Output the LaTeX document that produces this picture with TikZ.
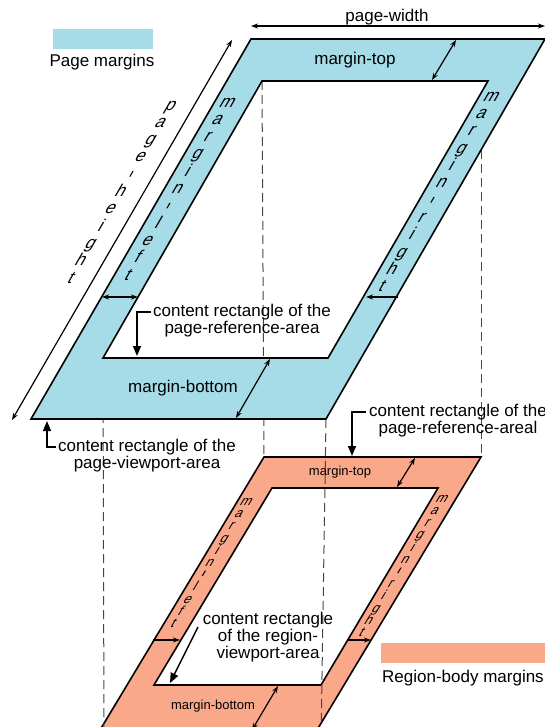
\documentclass[tikz,border=0pt]{standalone}
\usepackage{fontspec}
\setmainfont{Liberation Sans}
\usetikzlibrary{arrows.meta}
\definecolor{pageblue}{RGB}{166,220,231}
\definecolor{regorange}{RGB}{250,168,138}
\definecolor{dashgray}{RGB}{70,70,70}
\newcommand{\vhy}{\rule[2.5pt]{1.2pt}{5.5pt}}
\tikzset{
 lbl/.style={font=\fontsize{17}{17}\selectfont, inner sep=0pt},
 lblsmall/.style={font=\fontsize{13}{13}\selectfont, inner sep=0pt},
 multi/.style={font=\fontsize{17}{17}\selectfont, inner sep=0pt, align=center},
 vtext/.style={font={\fontsize{17}{17.3}\selectfont\lineskiplimit=-100pt\relax\lineskip=0pt\relax}, align=center, inner sep=0pt, transform shape},
 vtextsmall/.style={font={\fontsize{13}{12.2}\selectfont\lineskiplimit=-100pt\relax\lineskip=0pt\relax}, align=center, inner sep=0pt, transform shape},
 outline/.style={draw=black, line width=1.6pt, line join=miter},
 dim/.style={line width=1.2pt, {Stealth[length=7pt,width=5pt]}-{Stealth[length=7pt,width=5pt]}},
 dimone/.style={line width=1.2pt, -{Stealth[length=7pt,width=5pt]}},
 pointer/.style={line width=1.4pt, -{Triangle[length=10pt,width=8pt]}},
 guide/.style={draw=dashgray, line width=1pt, dash pattern=on 9pt off 5pt},
}
\begin{document}
\begin{tikzpicture}[x=1pt,y=-1pt]
\useasboundingbox (0,0) rectangle (545,727);
\clip (0,0) rectangle (545,727);
% top parallelogram
\coordinate (O1) at (31,419); \coordinate (O2) at (326,419);
\coordinate (O3) at (545,39); \coordinate (O4) at (251,39);
\coordinate (I1) at (103,358); \coordinate (I2) at (328,358);
\coordinate (I3) at (488,81); \coordinate (I4) at (262,81);
% bottom parallelogram
\coordinate (R1) at (94,740); \coordinate (R2) at (311,740);
\coordinate (R3) at (481,457); \coordinate (R4) at (264,457);
\coordinate (S1) at (154,685); \coordinate (S2) at (321,685);
\coordinate (S3) at (438,488); \coordinate (S4) at (272,488);
% guide ends
\coordinate (G2) at (481,150); \coordinate (G3) at (321,740); \coordinate (G4) at (104,740);

% legends
\fill[pageblue] (53,29) rectangle (153,49);
\node[lbl] (legA) at (102,62) {Page margins};
\fill[regorange] (381,643) rectangle (546,663);
\node[lbl, anchor=west] (legB) at (382,678) {Region-body margins};

% orange region
\fill[regorange, even odd rule] (R1)--(R2)--(R3)--(R4)--cycle (S1)--(S2)--(S3)--(S4)--cycle;
\draw[outline] (R1)--(R2)--(R3)--(R4)--cycle;
\draw[outline] (S1)--(S2)--(S3)--(S4)--cycle;

% guides
\draw[guide] (I4) -- (R4);
\draw[guide] (G2) -- (R3);
\draw[guide] (O2) -- (G3);
\draw[guide] (I1) -- (G4);

% blue page
\fill[pageblue, even odd rule] (O1)--(O2)--(O3)--(O4)--cycle (I1)--(I2)--(I3)--(I4)--cycle;
\draw[outline] (O1)--(O2)--(O3)--(O4)--cycle;
\draw[outline] (I1)--(I2)--(I3)--(I4)--cycle;

% dimension arrows, top
\coordinate (pw1) at (251,26); \coordinate (pw2) at (545,26);
\draw[dim] (pw1) -- (pw2);
\node[lbl] (pwl) at (387,17) {page-width};
\coordinate (ph1) at (232,40); \coordinate (ph2) at (12,420);
\draw[dim] (ph1) -- (ph2);
\coordinate (mt1) at (456,40); \coordinate (mt2) at (432,80);
\draw[dim] (mt1) -- (mt2);
\coordinate (mb1) at (270,359); \coordinate (mb2) at (236,418);
\draw[dim] (mb1) -- (mb2);
\coordinate (ml1) at (102,297); \coordinate (ml2) at (138,297);
\draw[dim] (ml1) -- (ml2);
\coordinate (mr1) at (398,297); \coordinate (mr2) at (366,297);
\draw[dimone] (mr1) -- (mr2);

% dimension arrows, bottom
\coordinate (bt1) at (415,458); \coordinate (bt2) at (397,487);
\draw[dim] (bt1) -- (bt2);
\coordinate (bb1) at (278,686); \coordinate (bb2) at (252,730);
\draw[dim] (bb1) -- (bb2);
\coordinate (bl1) at (153,640); \coordinate (bl2) at (180,640);
\draw[dimone] (bl1) -- (bl2);
\coordinate (br1) at (347,640); \coordinate (br2) at (371,640);
\draw[dimone] (br1) -- (br2);

% labels in margins
\node[lbl] (mtl) at (355,60) {margin-top};
\node[lbl] (mbl) at (183,388) {margin-bottom};
\node[lblsmall] (bmtl) at (340,472) {margin-top};
\node[lblsmall] (bmbl) at (213,706) {margin-bottom};

% slanted vertical texts
\begin{scope}[shift={(121,192)}, xslant=0.577]
\node[vtext] (phl) at (0,0) {p\\a\\g\\e\\{\vhy}\\h\\e\\i\\g\\h\\t};
\end{scope}
\begin{scope}[shift={(178,189)}, xslant=0.577]
\node[vtext] (mll) at (0,0) {m\\a\\r\\g\\i\\n\\{\vhy}\\l\\e\\f\\t};
\end{scope}
\begin{scope}[shift={(437,192)}, xslant=0.577]
\node[vtext] (mrl) at (0,0) {m\\a\\r\\g\\i\\n\\{\vhy}\\r\\i\\g\\h\\t};
\end{scope}
\begin{scope}[shift={(210,563)}, xslant=0.6]
\node[vtextsmall] (bmll) at (0,0) {m\\a\\r\\g\\i\\n\\{\vhy}\\l\\e\\f\\t};
\end{scope}
\begin{scope}[shift={(402,566)}, xslant=0.6]
\node[vtextsmall] (bmrl) at (0,0) {m\\a\\r\\g\\i\\n\\{\vhy}\\r\\i\\g\\h\\t};
\end{scope}

% pointer labels
\node[multi] (cr1) at (242,321) {content rectangle of the\\page-reference-area};
\coordinate (p1a) at (151,312); \coordinate (p1b) at (137,356);
\draw[pointer] (p1a) -| (p1b);

\node[multi] (cr2) at (147,456) {content rectangle of the\\page-viewport-area};
\coordinate (p2a) at (56,447); \coordinate (p2b) at (47,421);
\draw[pointer] (p2a) -| (p2b);

\node[multi] (cr3) at (458,421) {content rectangle of the\\page-reference-areal};
\coordinate (p3a) at (366,412); \coordinate (p3b) at (352,456);
\draw[pointer] (p3a) -| (p3b);

\node[multi] (cr4) at (268,637) {content rectangle\\of the region-\\viewport-area};
\coordinate (p4a) at (198,627); \coordinate (p4b) at (170,683);
\draw[pointer] (p4a) -- (p4b);
\end{tikzpicture}
\end{document}
